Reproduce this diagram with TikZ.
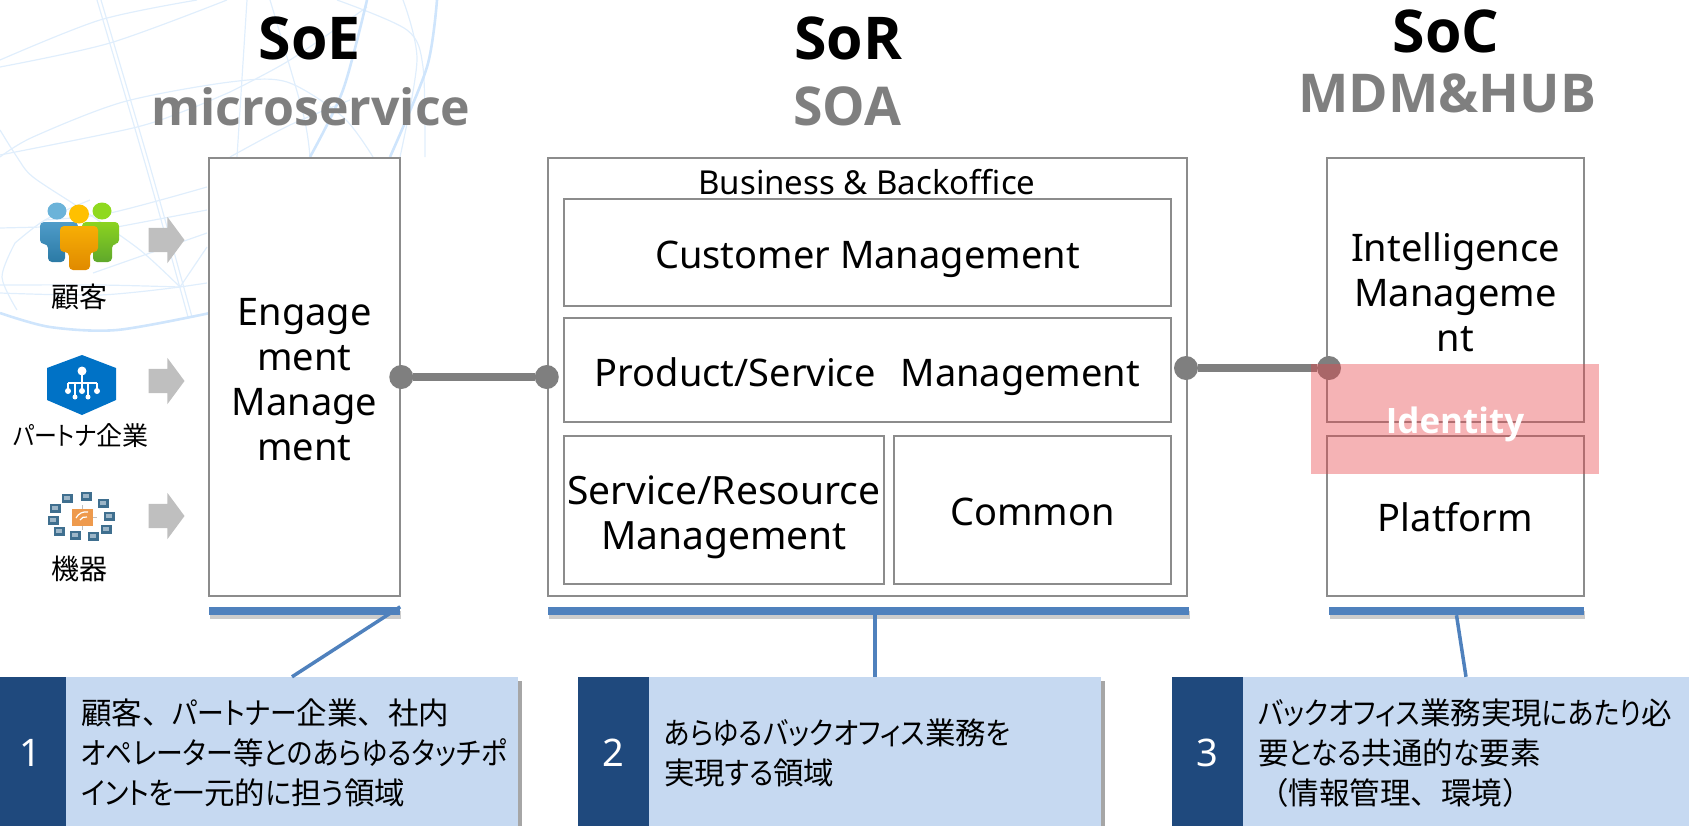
\documentclass[tikz,border=0pt]{standalone}
\usepackage{fontspec}
\setmainfont{Noto Sans}
\newfontfamily\headfont{Open Sans}
\newfontfamily\cjk{Noto Sans CJK JP}
\newfontfamily\kanafont[RawFeature=+palt,FakeStretch=0.88]{Noto Sans CJK JP}
\newcommand{\kn}[1]{{\kanafont #1}}
\usetikzlibrary{shapes.arrows,shadows}
\definecolor{boxgray}{HTML}{8C8C8C}
\definecolor{titlegray}{HTML}{7F7F7F}
\definecolor{arrowgray}{HTML}{BFBFBF}
\definecolor{barblue}{HTML}{4F81BD}
\definecolor{calldark}{HTML}{1F497D}
\definecolor{calllight}{HTML}{C6D9F1}
\definecolor{globeblue}{HTML}{E0EEFC}
\definecolor{globedeep}{HTML}{CFE5FC}
\definecolor{pinkred}{HTML}{E84146}
\definecolor{persona}{HTML}{4F9CC9}
\definecolor{personb}{HTML}{2B7AA5}
\definecolor{personc}{HTML}{6BB3D9}
\definecolor{persond}{HTML}{8BD320}
\definecolor{persone}{HTML}{5FA82B}
\definecolor{personf}{HTML}{8FD91F}
\definecolor{persong}{HTML}{F7AE05}
\definecolor{personh}{HTML}{E08A00}
\definecolor{personi}{HTML}{FFC000}
\definecolor{hexblue}{HTML}{0072C6}
\definecolor{chiporange}{HTML}{EE9A4D}
\definecolor{deviceblue}{HTML}{3F6F8F}
\definecolor{devicelight}{HTML}{9DB6C8}
\tikzset{
    titlehead/.style={anchor=base,font=\fontsize{59}{63}\selectfont\headfont\bfseries},
    titlesub/.style={anchor=base,text=titlegray,font=\fontsize{53.5}{57}\selectfont\headfont\bfseries},
    mainbox/.style={draw=boxgray,line width=2.5pt,fill=white,inner sep=0pt,align=center,font=\fontsize{38}{45}\selectfont},
    textdrop/.style={execute at begin node={\rule{0pt}{#1pt}}},
    linkdot/.style={circle,fill=titlegray,minimum size=24pt,inner sep=0pt},
    linkline/.style={draw=titlegray,line width=8pt},
    pusharrow/.style={single arrow,fill=arrowgray,minimum height=36pt,inner xsep=0pt,inner ysep=12pt,
        single arrow head extend=11pt,single arrow tip angle=107},
    iconlabel/.style={inner sep=0pt,font=\fontsize{28}{32}\selectfont\cjk},
    basebar/.style={fill=barblue,inner sep=0pt,minimum height=8pt,
        drop shadow={shadow xshift=1pt,shadow yshift=-4pt,fill=black,opacity=.2}},
    calloutline/.style={draw=barblue,line width=3.5pt},
    callnum/.style={fill=calldark,text=white,inner sep=0pt,minimum width=71pt,minimum height=152pt,font=\fontsize{38}{42}\selectfont},
    callbody/.style={fill=calllight,inner xsep=15pt,inner ysep=0pt,minimum height=152pt,align=left,
        font=\fontsize{30.5}{40}\selectfont\cjk,
        drop shadow={shadow xshift=4pt,shadow yshift=-4pt,fill=black,opacity=.35}},
    globeline/.style={draw=globeblue,line width=1.2pt},
    globethick/.style={draw=globedeep,line width=2.6pt}
}
\begin{document}
\begin{tikzpicture}[x=1pt,y=-1pt]
    \useasboundingbox (0,0) rectangle (1689,825);

    % Globe behind the left column
    \foreach \pts in {
        {(0,60) (100,20) (197,0)},
        {(0,67) (110,43) (227,0)},
        {(0,157) (33,137) (123,102) (230,82) (287,82) (343,117) (373,157)},
        {(0,155) (133,128) (187,110) (230,92)},
        {(97,0) (147,170) (188,317)},
        {(101,0) (151,170) (192,317)},
        {(270,0) (303,113) (310,157)},
        {(247,0) (237,157)},
        {(337,0) (407,30) (423,67) (425,157)},
        {(403,0) (417,60) (400,157)},
        {(0,130) (17,157) (33,177) (83,210) (140,250) (180,287)},
        {(0,228) (43,227)},
        {(45,220) (110,213) (207,187)},
        {(117,227) (207,210)},
        {(15,243) (2,277) (17,310)},
        {(15,243) (45,220) (90,200)},
        {(0,285) (100,285) (180,287)},
        {(0,293) (100,295) (180,287)},
        {(180,287) (207,247)},
        {(180,287) (207,283)},
        {(93,273) (207,233)},
        {(230,92) (290,60) (367,7)},
        {(230,157) (290,125) (350,100)}} {
        \draw[globeline] plot[smooth] coordinates \pts;
    }
    \draw[globethick] plot[smooth] coordinates {(367,0) (343,90) (310,157)};
    \draw[globethick] plot[smooth] coordinates {(437,0) (427,67) (390,157)};
    \draw[globethick] plot[smooth] coordinates {(0,313) (50,327) (117,330) (210,313)};

    % Column titles
    \node[titlehead] (soetitle) at (310,59) {SoE};
    \node[titlesub,font=\fontsize{50}{54}\selectfont\headfont\bfseries] (soesub) at (311,125) {microservice};
    \node[titlehead] (sortitle) at (848,59) {SoR};
    \node[titlesub] (sorsub) at (847,125) {SOA};
    \node[titlehead] (soctitle) at (1446,52) {SoC};
    \node[titlesub] (socsub) at (1447,112) {MDM\&HUB};

    % Left column icons: customer group
    \shade[top color=persona,bottom color=personb,rounded corners=4pt] (40,222) -- (78,222) -- (78,244) -- (65,244) -- (65,262) -- (48,262) -- (48,244) -- (40,244) -- cycle;
    \shade[top color=persond,bottom color=persone,rounded corners=4pt] (82,222) -- (119,222) -- (119,244) -- (112,244) -- (112,262) -- (93,262) -- (93,244) -- (82,244) -- cycle;
    \shade[top color=persong,bottom color=personh,rounded corners=4pt] (60,226) -- (98,226) -- (98,252) -- (90,252) -- (90,270) -- (69,270) -- (69,252) -- (60,252) -- cycle;
    \fill[personc] (57,211) ellipse [x radius=9.5,y radius=8.5];
    \fill[personf] (102,211) ellipse [x radius=9.5,y radius=8.5];
    \fill[personi] (79,214) ellipse [x radius=10,y radius=9.5];
    \node[iconlabel] (customer) at (79,297) {顧客};

    % Partner hexagon
    \fill[hexblue] (82,355) -- (116,368) -- (116,400) -- (82,415) -- (47,400) -- (47,368) -- cycle;
    \draw[white,line width=1.2pt] (82,371) -- (82,391) (68,383) -- (97,383) (68,383) -- (68,391) (75,383) -- (75,397) (88,383) -- (88,397) (97,383) -- (97,391);
    \fill[white] (82,371) circle (4.5);
    \foreach \px/\py/\pr in {68/391/3,82/391/3,97/391/3,75/397/2.5,88/397/2.5} {
        \fill[white] (\px,\py) circle (\pr);
    }
    \node[iconlabel,font=\fontsize{26}{30}\selectfont\cjk] (partner) at (81,436) {\kn{パートナ}企業};

    % Device cluster
    \draw[line width=1pt,arrowgray] (72,517) -- (97,517) (82,505) -- (82,530);
    \fill[chiporange] (72,509) rectangle (93,526);
    \draw[white,line width=1.2pt] (76,518) to[bend left=35] (88,512) (80,520) to[bend left=35] (87,517);
    \foreach \dx/\dy in {67/498,86/496,103/503,109/516,106/529,93/536,75/535,59/531,53/520,55/508} {
        \fill[deviceblue] (\dx-5.5,\dy-4.5) rectangle (\dx+5.5,\dy+4.5);
        \fill[devicelight] (\dx-3,\dy-2) rectangle (\dx+3,\dy+1.5);
    }
    \node[iconlabel] (device) at (79,569) {機器};

    % Arrows into the first column
    \foreach \ay/\aname in {240/pusha,381/pushb,516/pushc} {
        \node[pusharrow] (\aname) at (162,\ay) {};
    }

    % SoE column
    \node[mainbox,minimum width=191pt,minimum height=438pt] (engage) at (304.5,377) {\rule{0pt}{33pt}Engage\\ment\\Manage\\ment};

    % SoR column
    \node[mainbox,minimum width=639pt,minimum height=438pt] (sorouter) at (867.5,377) {};
    \node[inner sep=0pt,font=\fontsize{33}{36}\selectfont] (backoffice) at (867,182) {Business \& Backoffice};
    \node[mainbox,textdrop=42,minimum width=607pt,minimum height=107pt] (customermgmt) at (867.5,252.5) {Customer Management};
    \node[mainbox,textdrop=42,minimum width=607pt,minimum height=104pt] (productmgmt) at (867.5,370) {Product/Service\hspace{.4em} Management};
    \node[mainbox,font=\fontsize{39}{45}\selectfont,minimum width=320pt,minimum height=148pt] (servicemgmt) at (724,510) {\rule{0pt}{43pt}Service/Resource\\Management};
    \node[mainbox,textdrop=31,minimum width=277pt,minimum height=148pt] (commonmgmt) at (1032.5,510) {Common};

    % SoC column
    \node[mainbox,minimum width=257pt,minimum height=264pt] (intelligence) at (1455.5,290) {\rule{0pt}{34pt}Intelligence\\Manageme\\nt};
    \node[mainbox,textdrop=31,minimum width=257pt,minimum height=160pt] (platform) at (1455.5,516) {Platform};

    % Links between columns
    \node[linkdot] (engdot) at (engage.east) {};
    \node[linkdot] (sordot) at (sorouter.west) {};
    \draw[linkline] (engdot) -- (sordot);
    \node[linkdot] (sorright) at (1186,368) {};
    \node[linkdot] (socleft) at (1329,368) {};
    \draw[linkline] (sorright) -- (socleft);

    % Identity band
    \node[textdrop=38,fill=pinkred,fill opacity=.4,text opacity=1,text=white,inner sep=0pt,minimum width=288pt,minimum height=110pt,
        font=\fontsize{35}{40}\selectfont\headfont\bfseries] (identity) at (1455,419) {Identity};

    % Callouts
    \node[callbody,text width=422pt] (callbodya) at (292,753) {顧客、\kn{パートナー}企業、社内\\\kn{オペレーター}等\kn{とのあらゆるタッチポ}\\\kn{イントを}一元的\kn{に}担\kn{う}領域};
    \node[callnum,minimum width=72pt] (callnuma) at (30,753) {1};
    \node[callbody,text width=422pt] (callbodyb) at (875,753) {\kn{あらゆるバックオフィス}業務\kn{を}\\実現\kn{する}領域};
    \node[callnum] (callnumb) at (613.5,753) {2};
    \node[callbody,text width=416pt] (callbodyc) at (1466,753) {\kn{バックオフィス}業務実現\kn{にあたり}必\\要\kn{となる}共通的\kn{な}要素\\（情報管理、環境）};
    \node[callnum] (callnumc) at (1207.5,753) {3};

    % Bars under the columns
    \node[basebar,minimum width=191pt] (bara) at (304.5,611) {};
    \node[basebar,minimum width=641pt] (barb) at (868.5,611) {};
    \node[basebar,minimum width=255pt] (barc) at (1456.5,611) {};
    \draw[calloutline] (bara.north east) -- (callbodya.north);
    \draw[calloutline] (callbodyb.north) -- (callbodyb.north |- barb.south);
    \draw[calloutline] (barc.south) -- (callbodyc.north);
\end{tikzpicture}
\end{document}
